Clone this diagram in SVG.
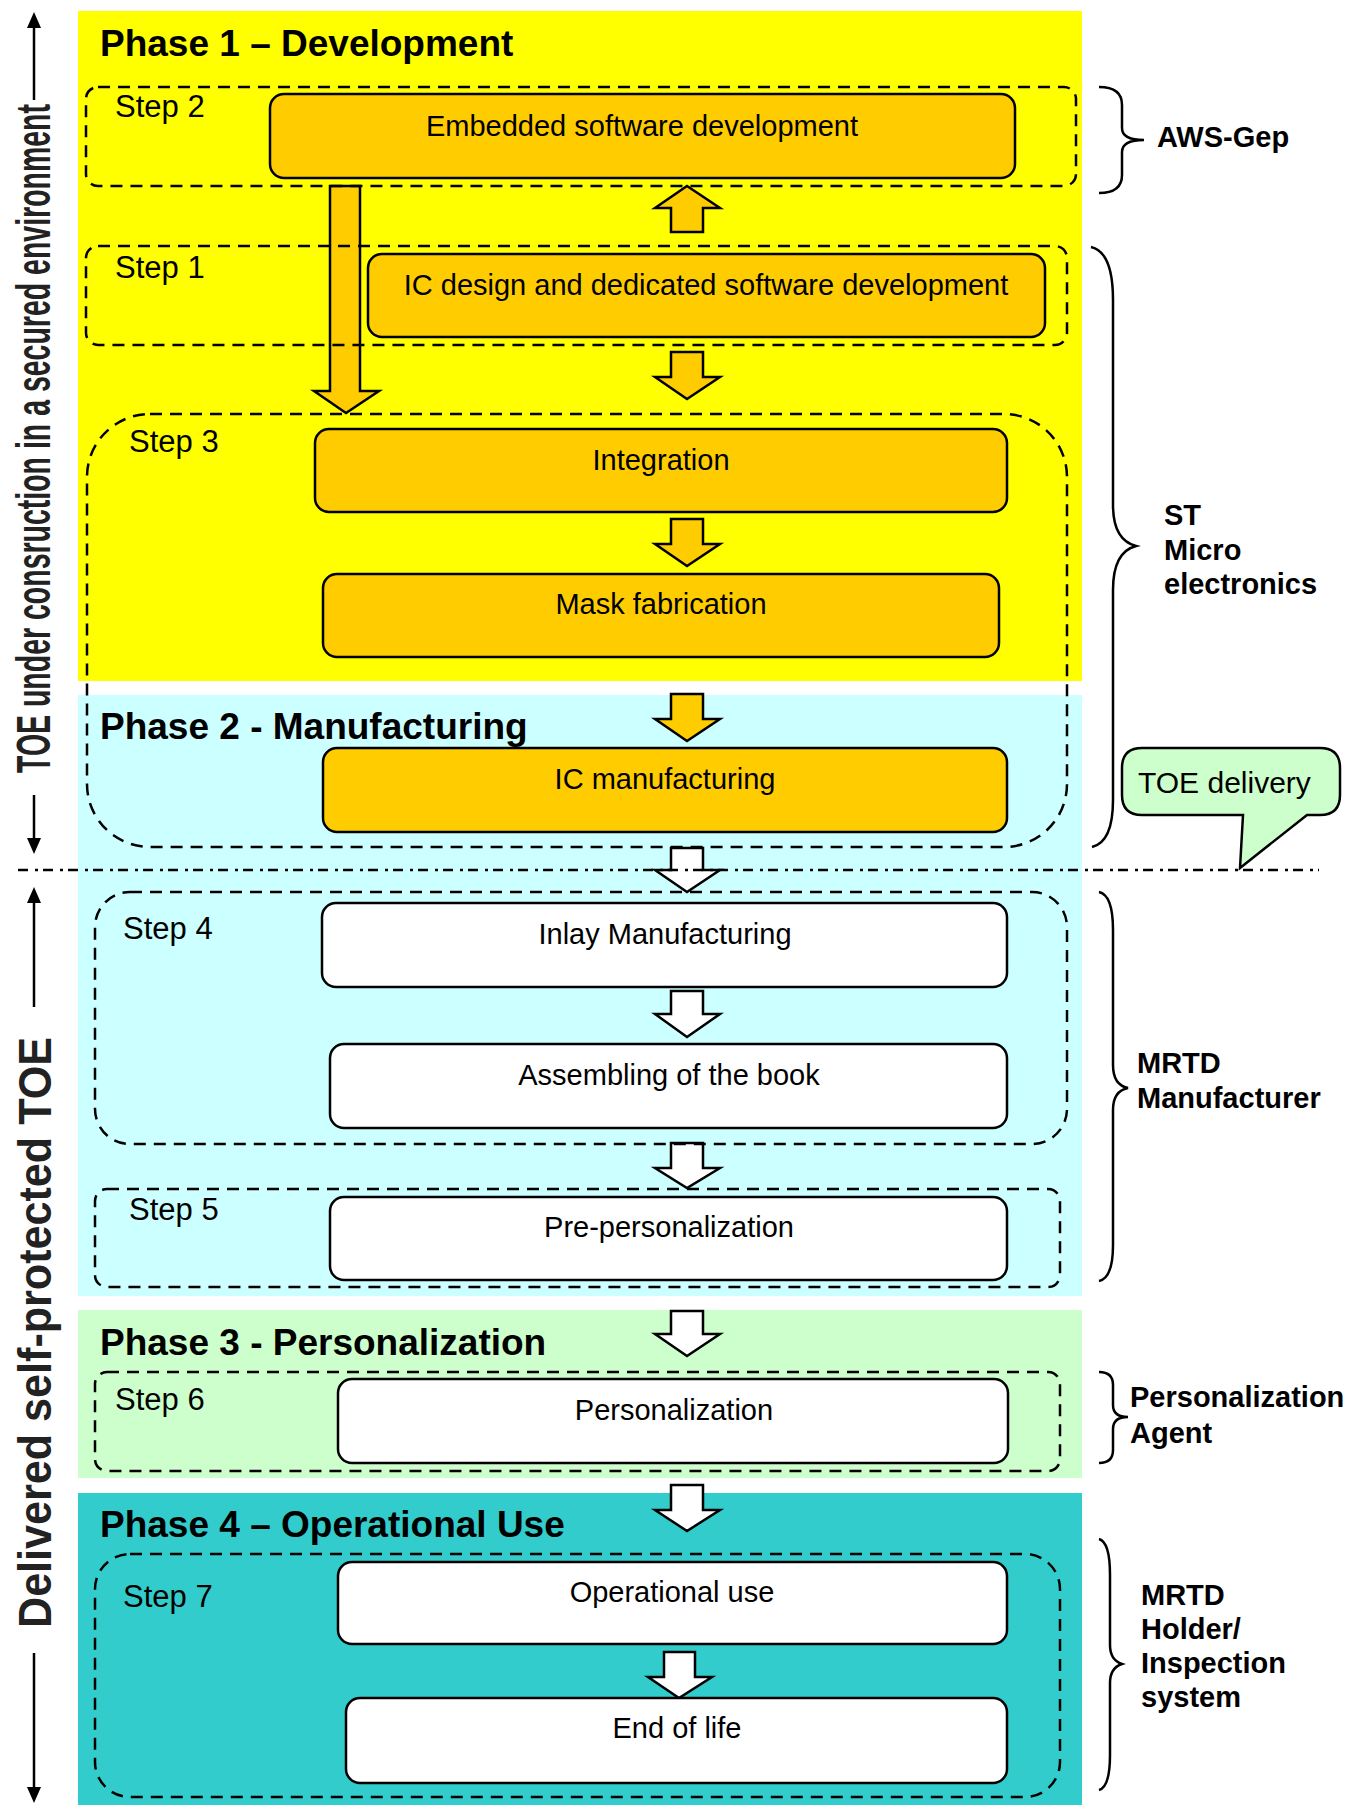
<svg xmlns="http://www.w3.org/2000/svg" width="1361" height="1805" viewBox="0 0 1361 1805">
<defs>
<style>
.phase{font-family:"Liberation Sans",Arial,sans-serif;font-weight:bold;font-size:37px;fill:#000}
.step{font-family:"Liberation Sans",Arial,sans-serif;font-size:31px;fill:#000}
.nt{font-family:"Liberation Sans",Arial,sans-serif;font-size:29px;fill:#000;text-anchor:middle}
.lbl{font-family:"Liberation Sans",Arial,sans-serif;font-weight:bold;font-size:29px;fill:#000}
.side{font-family:"Liberation Sans",Arial,sans-serif;font-weight:bold;fill:#222}
.box{stroke:#000;stroke-width:2.5}
.or{fill:#FFCC00}
.wh{fill:#FFFFFF}
.dash{fill:none;stroke:#000;stroke-width:2.5;stroke-dasharray:12 8}
.arr{stroke:#000;stroke-width:2.5;stroke-linejoin:miter}
.brace{fill:none;stroke:#000;stroke-width:2.5}
.vline{stroke:#000;stroke-width:2.5}
</style>
</defs>

<g id="backgrounds">
<rect x="78" y="11" width="1004" height="670" fill="#FFFF00"/>
<rect x="78" y="695" width="1004" height="601" fill="#CCFFFF"/>
<rect x="78" y="1310" width="1004" height="168" fill="#CCFFCC"/>
<rect x="78" y="1493" width="1004" height="312" fill="#33CCCC"/>
</g>

<g id="connectors">
<path class="arr or" d="M330,186 H360 V391 H379 L346,413 L314,391 H330 Z"/>
<path class="arr or" d="M687,186 L720,208 H703 V232 H671 V208 H655 Z"/>
<path class="arr or" d="M671,352 H703 V377 H720 L687,399 L655,377 H671 Z"/>
<path class="arr or" d="M671,519 H703 V544 H720 L687,566 L655,544 H671 Z"/>
<path class="arr or" d="M671,694 H703 V719 H720 L687,741 L655,719 H671 Z"/>
<path class="arr wh" d="M671,848 H703 V870 H720 L687,892 L655,870 H671 Z"/>
<path class="arr wh" d="M671,991 H703 V1014 H720 L687,1037 L655,1014 H671 Z"/>
<path class="arr wh" d="M671,1143 H703 V1168 H720 L687,1188 L655,1168 H671 Z"/>
<path class="arr wh" d="M671,1311 H703 V1334 H720 L687,1356 L655,1334 H671 Z"/>
<path class="arr wh" d="M671,1485 H703 V1510 H720 L687,1531 L655,1510 H671 Z"/>
<path class="arr wh" d="M664,1652 H695 V1677 H712 L679,1698 L648,1677 H664 Z"/>
</g>

<g id="steps">
<rect id="step2" class="dash" x="86" y="87" width="990" height="99" rx="12"/>
<rect id="step1" class="dash" x="86" y="246" width="981" height="99" rx="12"/>
<rect id="step3" class="dash" x="87" y="414" width="980" height="433" rx="63"/>
<rect id="step4" class="dash" x="95" y="892" width="972" height="252" rx="35"/>
<rect id="step5" class="dash" x="95" y="1189" width="965" height="98" rx="12"/>
<rect id="step6" class="dash" x="95" y="1372" width="965" height="99" rx="12"/>
<rect id="step7" class="dash" x="95" y="1554" width="965" height="243" rx="35"/>
<text class="step" x="115" y="117">Step 2</text>
<text class="step" x="115" y="278">Step 1</text>
<text class="step" x="129" y="452">Step 3</text>
<text class="step" x="123" y="939">Step 4</text>
<text class="step" x="129" y="1220">Step 5</text>
<text class="step" x="115" y="1410">Step 6</text>
<text class="step" x="123" y="1607">Step 7</text>
</g>

<g id="phase-titles">
<text class="phase" x="100" y="56">Phase 1 – Development</text>
<text class="phase" x="100" y="739">Phase 2 - Manufacturing</text>
<text class="phase" x="100" y="1355">Phase 3 - Personalization</text>
<text class="phase" x="100" y="1537">Phase 4 – Operational Use</text>
</g>

<g id="n-embedded"><rect class="box or" x="270" y="94" width="745" height="84" rx="14"/><text class="nt" x="642" y="136">Embedded software development</text></g>
<g id="n-icdesign"><rect class="box or" x="368" y="254" width="677" height="83" rx="14"/><text class="nt" x="706" y="295">IC design and dedicated software development</text></g>
<g id="n-integration"><rect class="box or" x="315" y="429" width="692" height="83" rx="14"/><text class="nt" x="661" y="470">Integration</text></g>
<g id="n-mask"><rect class="box or" x="323" y="574" width="676" height="83" rx="14"/><text class="nt" x="661" y="614">Mask fabrication</text></g>
<g id="n-icmanuf"><rect class="box or" x="323" y="748" width="684" height="84" rx="14"/><text class="nt" x="665" y="789">IC manufacturing</text></g>
<g id="n-inlay"><rect class="box wh" x="322" y="903" width="685" height="84" rx="14"/><text class="nt" x="665" y="944">Inlay Manufacturing</text></g>
<g id="n-assembling"><rect class="box wh" x="330" y="1044" width="677" height="84" rx="14"/><text class="nt" x="669" y="1085">Assembling of the book</text></g>
<g id="n-preperso"><rect class="box wh" x="330" y="1197" width="677" height="83" rx="14"/><text class="nt" x="669" y="1237">Pre-personalization</text></g>
<g id="n-perso"><rect class="box wh" x="338" y="1379" width="670" height="84" rx="14"/><text class="nt" x="674" y="1420">Personalization</text></g>
<g id="n-operational"><rect class="box wh" x="338" y="1562" width="669" height="82" rx="14"/><text class="nt" x="672" y="1602">Operational use</text></g>
<g id="n-endoflife"><rect class="box wh" x="346" y="1698" width="661" height="85" rx="14"/><text class="nt" x="677" y="1738">End of life</text></g>

<g id="delivery-line">
<line x1="18" y1="870" x2="1319" y2="870" stroke="#000" stroke-width="2.5" stroke-dasharray="10 7 3 5"/>
</g>

<g id="toe-delivery">
<path d="M1142,748 H1320 Q1340,748 1340,768 V795 Q1340,815 1320,815 H1307 L1240,868 L1243,815 H1142 Q1122,815 1122,795 V768 Q1122,748 1142,748 Z" fill="#CCFFCC" stroke="#000" stroke-width="2.5"/>
<text x="1138" y="793" font-family="'Liberation Sans',Arial,sans-serif" font-size="30">TOE delivery</text>
</g>

<g id="actors">
<path class="brace" d="M1099,87 Q1122,87 1122,105 L1122,128 Q1122,140 1144,140 Q1122,140 1122,152 L1122,175 Q1122,193 1099,193"/>
<text class="lbl" x="1157" y="147">AWS-Gep</text>
<path class="brace" d="M1091,247 Q1113,252 1113,300 L1113,505 Q1113,540 1136,546 Q1113,552 1113,590 L1113,800 Q1113,842 1092,847"/>
<text class="lbl" x="1164" y="525">ST</text>
<text class="lbl" x="1164" y="560">Micro</text>
<text class="lbl" x="1164" y="594">electronics</text>
<path class="brace" d="M1099,892 Q1113,895 1113,930 L1113,1065 Q1113,1085 1128,1088 Q1113,1091 1113,1110 L1113,1245 Q1113,1278 1099,1281"/>
<text class="lbl" x="1137" y="1073">MRTD</text>
<text class="lbl" x="1137" y="1108">Manufacturer</text>
<path class="brace" d="M1099,1372 Q1113,1372 1113,1385 L1113,1405 Q1113,1417 1128,1417 Q1113,1417 1113,1429 L1113,1450 Q1113,1463 1099,1463"/>
<text class="lbl" x="1130" y="1407">Personalization</text>
<text class="lbl" x="1130" y="1443">Agent</text>
<path class="brace" d="M1099,1539 Q1110,1542 1110,1575 L1110,1645 Q1110,1660 1122,1664 Q1110,1668 1110,1683 L1110,1755 Q1110,1787 1099,1790"/>
<text class="lbl" x="1141" y="1605">MRTD</text>
<text class="lbl" x="1141" y="1639">Holder/</text>
<text class="lbl" x="1141" y="1673">Inspection</text>
<text class="lbl" x="1141" y="1707">system</text>
</g>

<g id="side-top">
<line class="vline" x1="34" y1="26" x2="34" y2="100"/>
<polygon points="34,12 27,28 41,28" fill="#000"/>
<text class="side" font-size="49" transform="translate(50,773) rotate(-90)" textLength="669" lengthAdjust="spacingAndGlyphs">TOE under consruction in a secured environment</text>
<line class="vline" x1="34" y1="795" x2="34" y2="840"/>
<polygon points="34,854 27,838 41,838" fill="#000"/>
</g>

<g id="side-bottom">
<line class="vline" x1="34" y1="900" x2="34" y2="1007"/>
<polygon points="34,887 27,903 41,903" fill="#000"/>
<text class="side" font-size="46" transform="translate(51,1628) rotate(-90)" textLength="591" lengthAdjust="spacingAndGlyphs">Delivered self-protected TOE</text>
<line class="vline" x1="34" y1="1653" x2="34" y2="1790"/>
<polygon points="34,1803 27,1787 41,1787" fill="#000"/>
</g>
</svg>
